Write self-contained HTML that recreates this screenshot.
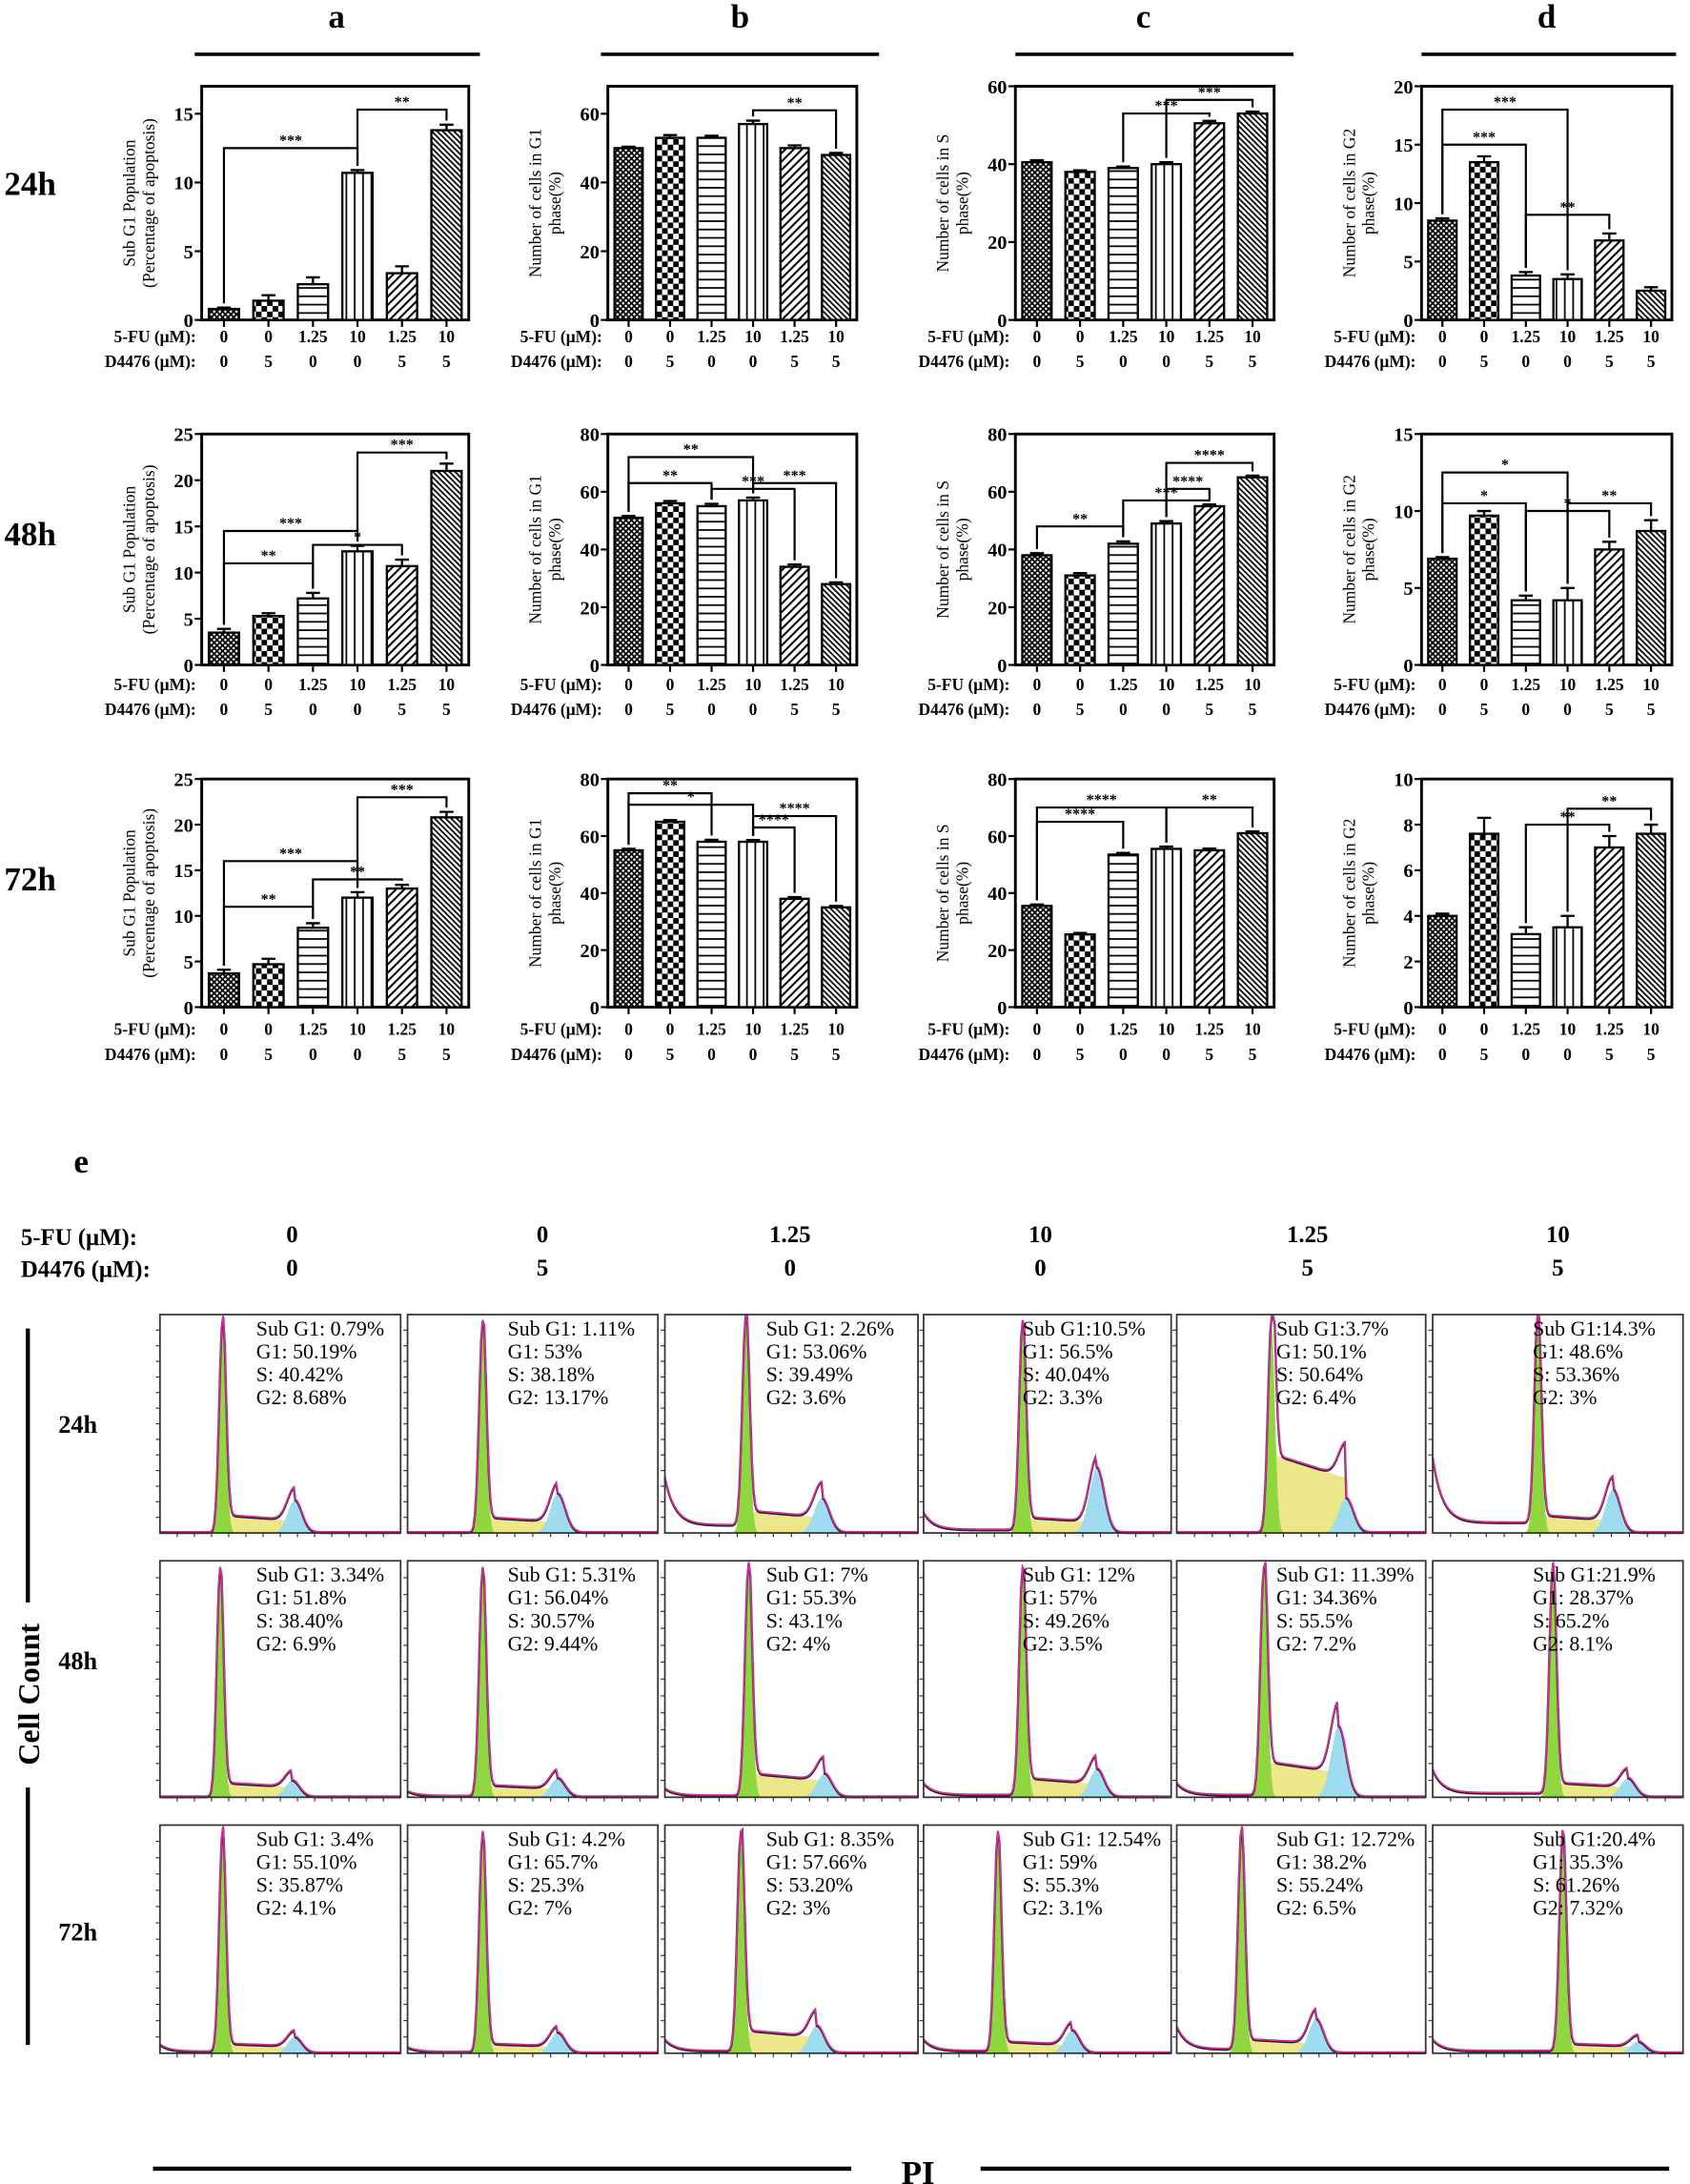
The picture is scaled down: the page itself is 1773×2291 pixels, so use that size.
<!DOCTYPE html>
<html><head><meta charset="utf-8">
<style>
html,body{margin:0;padding:0;background:#fff;}
svg{display:block;font-family:"Liberation Serif",serif;}
.b{font-weight:bold;}
</style></head>
<body>
<svg id="fig" width="1773" height="2291" viewBox="0 0 1215 1570" xmlns="http://www.w3.org/2000/svg">
<defs>
<pattern id="p1" width="4" height="4" patternUnits="userSpaceOnUse"><rect width="4" height="4" fill="#fff"/><path d="M0,0L4,4M4,0L0,4" stroke="#000" stroke-width="1.2"/></pattern>
<pattern id="p2" width="8" height="8" patternUnits="userSpaceOnUse"><rect width="8" height="8" fill="#fff"/><rect width="4" height="4" fill="#000"/><rect x="4" y="4" width="4" height="4" fill="#000"/></pattern>
<pattern id="p3" width="6" height="6" patternUnits="userSpaceOnUse"><rect width="6" height="6" fill="#fff"/><path d="M0,3H6" stroke="#000" stroke-width="1.2"/></pattern>
<pattern id="p4" width="6" height="6" patternUnits="userSpaceOnUse"><rect width="6" height="6" fill="#fff"/><path d="M3,0V6" stroke="#000" stroke-width="1.2"/></pattern>
<pattern id="p5" width="6" height="6" patternUnits="userSpaceOnUse"><rect width="6" height="6" fill="#fff"/><path d="M-1,7L7,-1M-1,1L1,-1M5,7L7,5" stroke="#000" stroke-width="1.4"/></pattern>
<pattern id="p6" width="4" height="4" patternUnits="userSpaceOnUse"><rect width="4" height="4" fill="#fff"/><path d="M-1,-1L5,5M-1,3L1,5M3,-1L5,1" stroke="#000" stroke-width="1.2"/></pattern>
</defs>
<g id="root"></g>
</svg>
<script>
// ---- bar chart data ----
const a24=[0.8,1.4,2.6,10.7,3.4,13.8], a24e=[0.1,0.4,0.5,0.2,0.5,0.4];
const b24=[50,53,53,57,50,48], b24e=[0.4,0.8,0.6,1,0.8,0.6];
const c24=[40.5,38,39,40,50.5,53], c24e=[0.5,0.4,0.4,0.5,0.6,0.5];
const d24=[8.5,13.5,3.8,3.5,6.8,2.5], d24e=[0.2,0.5,0.3,0.4,0.6,0.3];
const a48=[3.5,5.3,7.2,12.3,10.7,21], a48e=[0.4,0.3,0.6,0.6,0.7,0.8];
const b48=[51,56,55,57,34,28], b48e=[0.6,0.8,0.8,1,0.8,0.6];
const c48=[38,31,42,49,55,65], c48e=[0.7,0.8,0.8,0.8,0.6,0.6];
const d48=[6.9,9.7,4.2,4.2,7.5,8.7], d48e=[0.1,0.3,0.3,0.8,0.5,0.7];
const a72=[3.7,4.7,8.7,12,13,20.8], a72e=[0.4,0.6,0.5,0.6,0.4,0.6];
const b72=[55,65,58,58,38,35], b72e=[0.5,0.6,0.7,0.6,0.6,0.5];
const c72=[35.5,25.5,53.5,55.5,55,61], c72e=[0.5,0.5,0.6,0.8,0.6,0.6];
const d72=[4,7.6,3.2,3.5,7,7.6], d72e=[0.1,0.7,0.3,0.5,0.5,0.4];
const fuLabels=["0","0","1.25","10","1.25","10"];
const dLabels=["0","5","0","0","5","5"];
// brackets [from, to, level, label]
const br_a24=[[0,3,12.5,"***"],[3,5,15.3,"**"]];
const br_b24=[[3,5,61,"**"]];
const br_c24=[[2,4,53,"***"],[3,5,56.5,"***"]];
const br_d24=[[0,3,18,"***"],[0,2,15,"***"],[2,4,9,"**"]];
const br_a48=[[0,2,11,"**"],[0,3,14.5,"***"],[2,4,13,"*"],[3,5,23,"***"]];
const br_b48=[[0,3,72,"**"],[0,2,63,"**"],[2,4,61,"***"],[3,5,63,"***"]];
const br_c48=[[0,2,48,"**"],[2,4,57,"***"],[3,4,61,"****"],[3,5,70,"****"]];
const br_d48=[[0,3,12.5,"*"],[0,2,10.5,"*"],[2,4,10,"*"],[3,5,10.5,"**"]];
const br_a72=[[0,2,11,"**"],[0,3,16,"***"],[2,4,14,"**"],[3,5,23,"***"]];
const br_b72=[[0,2,75,"**"],[0,3,71,"*"],[3,5,67,"****"],[3,4,63,"****"]];
const br_c72=[[0,3,70,"****"],[0,2,65,"****"],[3,5,70,"**"]];
const br_d72=[[2,4,8,"**"],[3,5,8.7,"**"]];

// ---- histogram data (Sub G1, G1, S, G2 text) ----
const histText=[
 ["Sub G1: 0.79%","G1: 50.19%","S: 40.42%","G2: 8.68%"],
 ["Sub G1: 1.11%","G1: 53%","S: 38.18%","G2: 13.17%"],
 ["Sub G1: 2.26%","G1: 53.06%","S: 39.49%","G2: 3.6%"],
 ["Sub G1:10.5%","G1: 56.5%","S: 40.04%","G2: 3.3%"],
 ["Sub G1:3.7%","G1: 50.1%","S: 50.64%","G2: 6.4%"],
 ["Sub G1:14.3%","G1: 48.6%","S: 53.36%","G2: 3%"],
 ["Sub G1: 3.34%","G1: 51.8%","S: 38.40%","G2: 6.9%"],
 ["Sub G1: 5.31%","G1: 56.04%","S: 30.57%","G2: 9.44%"],
 ["Sub G1: 7%","G1: 55.3%","S: 43.1%","G2: 4%"],
 ["Sub G1: 12%","G1: 57%","S: 49.26%","G2: 3.5%"],
 ["Sub G1: 11.39%","G1: 34.36%","S: 55.5%","G2: 7.2%"],
 ["Sub G1:21.9%","G1: 28.37%","S: 65.2%","G2: 8.1%"],
 ["Sub G1: 3.4%","G1: 55.10%","S: 35.87%","G2: 4.1%"],
 ["Sub G1: 4.2%","G1: 65.7%","S: 25.3%","G2: 7%"],
 ["Sub G1: 8.35%","G1: 57.66%","S: 53.20%","G2: 3%"],
 ["Sub G1: 12.54%","G1: 59%","S: 55.3%","G2: 3.1%"],
 ["Sub G1: 12.72%","G1: 38.2%","S: 55.24%","G2: 6.5%"],
 ["Sub G1:20.4%","G1: 35.3%","S: 61.26%","G2: 7.32%"]];
const g1Pos=[0.26,0.3,0.32,0.4,0.38,0.42, 0.25,0.3,0.33,0.4,0.35,0.48, 0.26,0.3,0.3,0.3,0.26,0.52];
const sLevel=[0.08,0.07,0.1,0.07,0.36,0.08, 0.06,0.05,0.1,0.08,0.15,0.06, 0.04,0.04,0.1,0.05,0.06,0.04];
const g2Height=[0.15,0.18,0.16,0.3,0.16,0.2, 0.07,0.08,0.1,0.12,0.3,0.08, 0.07,0.09,0.12,0.1,0.15,0.05];
const debris=[0,0,0.22,0.08,0,0.3, 0,0.02,0.03,0.05,0.05,0.1, 0.03,0.02,0.05,0.05,0.1,0.05];

const NS="http://www.w3.org/2000/svg";
const root=document.getElementById('root');
function el(tag,attrs,parent){const e=document.createElementNS(NS,tag);for(const k in attrs)e.setAttribute(k,attrs[k]);(parent||root).appendChild(e);return e;}
function txt(x,y,s,attrs,parent){const t=el('text',Object.assign({x:x,y:y},attrs||{}),parent);t.textContent=s;return t;}

function barChart(name,x0,x1,y0,y1,max,step,vals,errs,title,brs,labY){
  const g=el('g',{});
  
  
  const Y=v=>y1-v/max*(y1-y0);
  const sp=(x1-x0)/6, X=i=>x0+(i+0.5)*sp, bw=sp*0.68;
  const fr=el('rect',{x:x0,y:y0,width:x1-x0,height:y1-y0,fill:'none',stroke:'#000','stroke-width':2},g);
  
  
  for(let v=0;v<=max+1e-9;v+=step){
    el('line',{x1:x0-5,x2:x0,y1:Y(v),y2:Y(v),stroke:'#000','stroke-width':1.5},g);
    const t=txt(x0-6,Y(v)+5,String(v),{'text-anchor':'end','font-size':14,'class':'b'},g);
    
    
  }
  const tt=el('text',{transform:`translate(${x0-48},${(y0+y1)/2}) rotate(-90)`,'text-anchor':'middle','font-size':12},g);
  
  
  title.forEach((s,k)=>{const ts=el('tspan',{x:0,dy:k==0?0:14},tt);ts.textContent=s;});
  vals.forEach((v,i)=>{
    const r=el('rect',{x:X(i)-bw/2,y:Y(v),width:bw,height:y1-Y(v),fill:`url(#p${i+1})`,stroke:'#000','stroke-width':1.6},g);
    
    
    const ey=Y(v+errs[i]);
    el('path',{d:`M${X(i)},${Y(v)}V${ey}M${X(i)-5},${ey}H${X(i)+5}`,stroke:'#000','stroke-width':1.6,fill:'none'},g);
    el('line',{x1:X(i),x2:X(i),y1:y1,y2:y1+5,stroke:'#000','stroke-width':1.5},g);
    const l1=txt(X(i),labY+4,fuLabels[i],{'text-anchor':'middle','font-size':12,'class':'b'},g);
    
    
    const l2=txt(X(i),labY+22,dLabels[i],{'text-anchor':'middle','font-size':12,'class':'b'},g);
    
    
  });
  const r1=txt(x0-4,labY+4,'5-FU (μM):',{'text-anchor':'end','font-size':12,'class':'b'},g);
  
  
  const r2=txt(x0-4,labY+22,'D4476 (μM):',{'text-anchor':'end','font-size':12,'class':'b'},g);
  
  
  brs.forEach(b=>{
    const [i,j,lv,lab]=b, ly=Y(lv);
    const p=el('path',{d:`M${X(i)},${Y(vals[i]+errs[i])-3}V${ly}H${X(j)}V${Y(vals[j]+errs[j])-3}`,fill:'none',stroke:'#000','stroke-width':1.5},g);
    
    
    const s=txt((X(i)+X(j))/2,ly-2,lab,{'text-anchor':'middle','font-size':11,'class':'b'},g);
    
    
  });
}
const cols=[[145,337],[437,616],[730,916],[1022,1202]];
const rows=[[62,230,242],[312,478,492],[560,724,740]];
const titles=[["Sub G1 Population","(Percentage of apoptosis)"],["Number of cells in G1","phase(%)"],["Number of cells in S","phase(%)"],["Number of cells in G2","phase(%)"]];
const cfg=[
 [[17,5,a24,a24e,br_a24],[68,20,b24,b24e,br_b24],[60,20,c24,c24e,br_c24],[20,5,d24,d24e,br_d24]],
 [[25,5,a48,a48e,br_a48],[80,20,b48,b48e,br_b48],[80,20,c48,c48e,br_c48],[15,5,d48,d48e,br_d48]],
 [[25,5,a72,a72e,br_a72],[80,20,b72,b72e,br_b72],[80,20,c72,c72e,br_c72],[10,2,d72,d72e,br_d72]]];
const tnames=["24h","48h","72h"], pnames=["a","b","c","d"];
rows.forEach((r,ri)=>cols.forEach((c,ci)=>{
  const k=cfg[ri][ci];
  barChart(`chart-${pnames[ci]}-${tnames[ri]}`,c[0],c[1],r[0],r[1],k[0],k[1],k[2],k[3],titles[ci],k[4],r[2]);
}));
// headers
pnames.forEach((p,i)=>{
  const cx=[242,532,822,1112][i];
  const t=txt(cx,20,p,{'text-anchor':'middle','font-size':24,'class':'b'});
  
  
  el('line',{x1:[140,432,730,1022][i],x2:[345,632,930,1205][i],y1:39,y2:39,stroke:'#000','stroke-width':2.5});
});
[[140,"24h"],[392,"48h"],[640,"72h"]].forEach(a=>{
  const t=txt(3,a[0],a[1],{'font-size':24,'class':'b'});
  
  
});

// ---- panel e ----
let t=txt(53,843,"e",{'font-size':24,'class':'b'});


t=txt(15,895,"5-FU (μM):",{'font-size':17,'class':'b'});


t=txt(15,918,"D4476 (μM):",{'font-size':17,'class':'b'});


const eCx=[210,390,568,748,940,1120];
eCx.forEach((x,i)=>{
  let a=txt(x,893,fuLabels[i],{'text-anchor':'middle','font-size':17,'class':'b'});
  
  
  a=txt(x,917,dLabels[i],{'text-anchor':'middle','font-size':17,'class':'b'});
  
  
});
const hx=[[115,288],[293,473],[478,660],[664,842],[846,1025],[1030,1210]];
const hy=[[945,1102],[1122,1292],[1312,1476]];
function gauss(t,c,s){return Math.exp(-((t-c)*(t-c))/(2*s*s));}
hy.forEach((r,ri)=>hx.forEach((c,ci)=>{
  const idx=ri*6+ci, w=c[1]-c[0], h=r[1]-r[0];
  const g=el('g',{});
  
  
  const c1=g1Pos[idx], c2=c1+0.3, sl=sLevel[idx], g2=g2Height[idx], db=debris[idx];
  const N=160, xs=[], tot=[], gg=[], ss=[], g22=[];
  for(let k=0;k<=N;k++){
    const tt=k/N;
    const a=0.97*gauss(tt,c1,0.014);
    const sp=(tt>c1&&tt<c2)?sl*(1-0.3*(tt-c1)/(c2-c1)):0;
    const b=g2*gauss(tt,c2,0.03);
    const d=db*Math.exp(-tt/0.04)+ (tt<c1?db*0.15:0);
    xs.push(c[0]+tt*w);gg.push(a);ss.push(sp);g22.push(b);tot.push(Math.min(0.99,a+sp+b+d));
  }
  const Yh=v=>r[1]-v*h;
  const poly=(arr)=>`M${xs[0]},${r[1]}`+arr.map((v,k)=>`L${xs[k]},${Yh(v)}`).join('')+`L${xs[N]},${r[1]}Z`;
  el('path',{d:poly(ss),fill:'#ece88a'},g);
  el('path',{d:poly(g22),fill:'#9fdcef'},g);
  el('path',{d:poly(gg),fill:'#8fd640'},g);
  el('path',{d:'M'+tot.map((v,k)=>`${xs[k]},${Yh(v)}`).join('L'),fill:'none',stroke:'#222','stroke-width':1.6},g);
  el('path',{d:'M'+tot.map((v,k)=>`${xs[k]},${Yh(v)-0.8}`).join('L'),fill:'none',stroke:'#d0309a','stroke-width':1.2},g);
  el('rect',{x:c[0],y:r[0],width:w,height:h,fill:'none',stroke:'#333','stroke-width':1.2},g);
  for(let k=1;k<14;k++){el('line',{x1:c[0]+k*w/14,x2:c[0]+k*w/14,y1:r[1],y2:r[1]+3,stroke:'#333','stroke-width':0.8},g);
    el('line',{x1:c[0],x2:c[0]-3,y1:r[1]-k*h/14,y2:r[1]-k*h/14,stroke:'#333','stroke-width':0.8},g);}
  histText[idx].forEach((s,k)=>{
    const q=txt(c[0]+w*0.4,r[0]+15+k*16.5,s,{'font-size':15},g);
    
    
  });
}));
[[1030,"24h"],[1200,"48h"],[1395,"72h"]].forEach(a=>{
  const q=txt(42,a[0],a[1],{'font-size':18,'class':'b'});
  
  
});
el('line',{x1:20,x2:20,y1:955,y2:1152,stroke:'#000','stroke-width':3});
el('line',{x1:20,x2:20,y1:1285,y2:1470,stroke:'#000','stroke-width':3});
t=el('text',{transform:'translate(28,1218) rotate(-90)','text-anchor':'middle','font-size':22,'class':'b'});
t.textContent='Cell Count';


el('line',{x1:110,x2:612,y1:1559,y2:1559,stroke:'#000','stroke-width':3});
el('line',{x1:705,x2:1200,y1:1559,y2:1559,stroke:'#000','stroke-width':3});
t=txt(660,1570,'PI',{'text-anchor':'middle','font-size':24,'class':'b'});


</script>
</body></html>
